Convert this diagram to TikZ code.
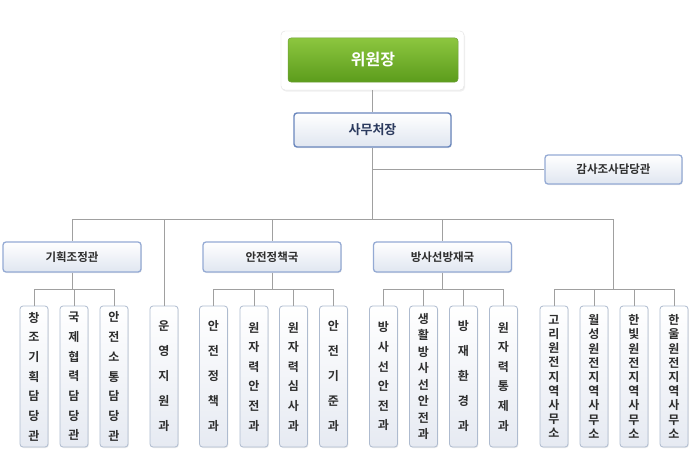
\documentclass[tikz,border=0pt]{standalone}
\usepackage{fontspec}
\setmainfont{Noto Sans CJK KR}[BoldFont={Noto Sans CJK KR Bold}]
\usetikzlibrary{shadows}
\definecolor{lineg}{HTML}{A0A0A0}
\definecolor{hdrbord}{HTML}{94AAD4}
\definecolor{chbord}{HTML}{AEBBCF}
\definecolor{txt}{HTML}{2E2E2E}
\definecolor{navy}{HTML}{2B3A5E}
\definecolor{gtop}{HTML}{8CC63F}
\definecolor{gbot}{HTML}{5C9C1C}
\definecolor{gbord}{HTML}{6E9F3A}
\definecolor{secbord}{HTML}{6A87BD}
\definecolor{boxbot}{HTML}{E0E6F0}
\definecolor{chbot}{HTML}{E6EAF2}
\tikzset{
  conn/.style={draw=lineg, line width=0.8pt},
  hdr/.style={draw=hdrbord, line width=1.3pt, rounded corners=3pt, top color=white, bottom color=boxbot,
    minimum width=138pt, minimum height=30pt, inner sep=0pt, font=\bfseries\fontsize{11.5}{13}\selectfont, text=txt,
    drop shadow={opacity=0.15, shadow xshift=0.8pt, shadow yshift=-1pt}},
  chbox/.style={draw=chbord, line width=0.8pt, rounded corners=3pt, top color=white, bottom color=chbot,
    minimum width=28pt, minimum height=141pt, inner sep=0pt, align=center, text=txt,
    drop shadow={opacity=0.15, shadow xshift=0.8pt, shadow yshift=-1pt}},
  vfive/.style={chbox, font=\bfseries\fontsize{12}{25}\selectfont},
  vsix/.style={chbox, font=\bfseries\fontsize{12}{19.6}\selectfont},
  vseven/.style={chbox, font=\bfseries\fontsize{12}{19.7}\selectfont},
  veight/.style={chbox, font=\bfseries\fontsize{12}{16.5}\selectfont},
  vnine/.style={chbox, font=\bfseries\fontsize{12}{14.2}\selectfont},
}
\begin{document}
\begin{tikzpicture}[x=1pt, y=-1pt]
\useasboundingbox (0,0) rectangle (690,452);
\fill[white] (0,0) rectangle (690,452);
% top
\node[draw=black!12, fill=white, rounded corners=4pt, minimum width=183pt, minimum height=59pt,
  drop shadow={opacity=0.12, shadow xshift=1pt, shadow yshift=-1.5pt}] (frame) at (372.5,60.5) {};
\node[draw=gbord, line width=0.5pt, rounded corners=3pt, top color=gtop, bottom color=gbot,
  minimum width=170pt, minimum height=44pt, text=white, font=\bfseries\fontsize{16}{18}\selectfont] (chair) at (373,60) {위원장};
\node[draw=secbord, line width=1.4pt, rounded corners=3pt, top color=white, bottom color=boxbot,
  minimum width=157pt, minimum height=34pt, text=navy, font=\bfseries\fontsize{13}{15}\selectfont,
  drop shadow={opacity=0.15, shadow xshift=0.8pt, shadow yshift=-1pt}] (sec) at (372.5,130) {사무처장};
\node[hdr, minimum width=137pt, minimum height=29pt] (audit) at (613.5,169.5) {감사조사담당관};
\node[hdr] (plan) at (72,257) {기획조정관};
\node[hdr] (safe) at (272,257) {안전정책국};
\node[hdr] (rad) at (442.5,257) {방사선방재국};
% children
\node[vseven] (c1) at (34,376.5) {창\\조\\기\\획\\담\\당\\관};
\node[vseven] (c2) at (74,376.5) {국\\제\\협\\력\\담\\당\\관};
\node[vseven] (c3) at (114,376.5) {안\\전\\소\\통\\담\\당\\관};
\node[vfive] (c4) at (164,376.5) {운\\영\\지\\원\\과};
\node[vfive] (s1) at (213.5,376.5) {안\\전\\정\\책\\과};
\node[vsix] (s2) at (254,376.5) {원\\자\\력\\안\\전\\과};
\node[vsix] (s3) at (293.5,376.5) {원\\자\\력\\심\\사\\과};
\node[vfive] (s4) at (333.5,376.5) {안\\전\\기\\준\\과};
\node[vsix] (r1) at (383.5,376.5) {방\\사\\선\\안\\전\\과};
\node[veight] (r2) at (423.5,376.5) {생\\활\\방\\사\\선\\안\\전\\과};
\node[vfive] (r3) at (463.5,376.5) {방\\재\\환\\경\\과};
\node[vsix] (r4) at (503.5,376.5) {원\\자\\력\\통\\제\\과};
\node[vnine] (o1) at (554,376.5) {고\\리\\원\\전\\지\\역\\사\\무\\소};
\node[vnine] (o2) at (594,376.5) {월\\성\\원\\전\\지\\역\\사\\무\\소};
\node[vnine] (o3) at (634,376.5) {한\\빛\\원\\전\\지\\역\\사\\무\\소};
\node[vnine] (o4) at (674,376.5) {한\\울\\원\\전\\지\\역\\사\\무\\소};
% coordinates
\coordinate (j1) at (372.5,169.5);
\coordinate (bus) at (372.5,219);
\coordinate (busL) at (72,219);
\coordinate (busR) at (613,219);
\coordinate (bA) at (164,219);
\coordinate (bS) at (272,219);
\coordinate (bR) at (442.5,219);
\coordinate (sbP) at (72,289);
\coordinate (sbS) at (272,289);
\coordinate (sbR) at (442.5,289);
\coordinate (sbO) at (613,289);
% connectors
\draw[conn] (frame.south) -- (sec.north);
\draw[conn] (sec.south) -- (bus);
\draw[conn] (j1) -- (audit.west);
\draw[conn] (busL) -- (busR);
\draw[conn] (busL) -- (plan.north);
\draw[conn] (bA) -- (c4.north);
\draw[conn] (bS) -- (safe.north);
\draw[conn] (bR) -- (rad.north);
\draw[conn] (busR) -- (sbO);
\draw[conn] (plan.south) -- (sbP);
\draw[conn] (safe.south) -- (sbS);
\draw[conn] (rad.south) -- (sbR);
\foreach \c/\s in {c1/sbP,c2/sbP,c3/sbP,s1/sbS,s2/sbS,s3/sbS,s4/sbS,r1/sbR,r2/sbR,r3/sbR,r4/sbR,o1/sbO,o2/sbO,o3/sbO,o4/sbO}
  \draw[conn] (\c.north) |- (\s);
\end{tikzpicture}
\end{document}
